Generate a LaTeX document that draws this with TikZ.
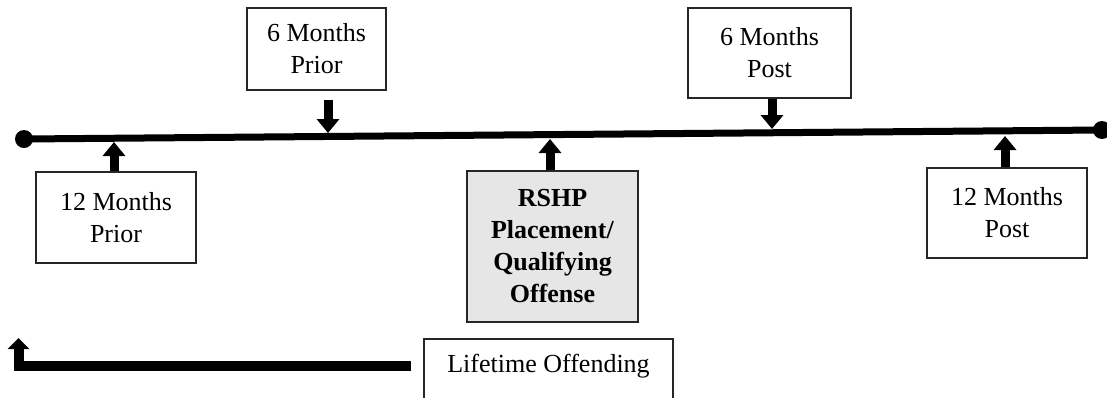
\documentclass[tikz,border=0pt]{standalone}
\usepackage{fontspec}
\setmainfont{Liberation Serif}
\usetikzlibrary{arrows.meta}
\definecolor{rshpgray}{RGB}{230,230,230}

\tikzset{
  period/.style={draw=black!85,line width=1.2pt,inner sep=0pt,align=center,
    font=\fontsize{26}{32}\selectfont},
  bar/.style={line width=9pt,-{Triangle[width=22pt,length=14pt]}},
  timeline/.style={line width=7pt}
}

\begin{document}
\begin{tikzpicture}[x=1pt,y=-1pt]
  \useasboundingbox (0,0) rectangle (1107,397);
  % Timeline
  \coordinate (L) at (24,139);
  \coordinate (R) at (1102,130);
  \draw[timeline] (L) -- (R);
  \fill (L) circle (9pt);
  \fill (R) circle (9pt);
  % Points on the timeline
  \coordinate (t1) at (114,142);
  \coordinate (t2) at (328,133);
  \coordinate (t3) at (550,139);
  \coordinate (t4) at (772,129);
  \coordinate (t5) at (1005,136);
  \coordinate (lt) at (18.5,338);
  % Nodes
  \node[period,minimum width=139pt,minimum height=82pt] (prior6) at (316.5,49) {6 Months\\Prior};
  \node[period,minimum width=163pt,minimum height=90pt] (post6) at (769.5,53) {6 Months\\Post};
  \node[period,minimum width=160pt,minimum height=91pt] (prior12) at (116,217.5) {12 Months\\Prior};
  \node[period,fill=rshpgray,minimum width=171pt,minimum height=151pt] (rshp) at (552.5,246.5)
    {\textbf{RSHP}\\\textbf{Placement/}\\\textbf{Qualifying}\\\textbf{Offense}};
  \node[period,minimum width=160pt,minimum height=90pt] (post12) at (1007,213) {12 Months\\Post};
  \node[period,minimum width=249pt,minimum height=91pt] (life) at (548.5,384.5) {Lifetime Offending\\\strut};
  % Arrows onto the timeline
  \draw[bar] ([xshift=11.5pt,yshift=-9pt]prior6.south) -- (t2);
  \draw[bar] ([xshift=2.5pt]post6.south) -- (t4);
  \draw[bar] ([xshift=-2pt]prior12.north) -- (t1);
  \draw[bar] ([xshift=-2.5pt]rshp.north) -- (t3);
  \draw[bar] ([xshift=-2pt]post12.north) -- (t5);
  % Lifetime arrow
  \draw[bar,line width=10pt,-{Triangle[width=21pt,length=11pt]}]
    ([shift={(-12pt,-28pt)}]life.north west) -| (lt);
\end{tikzpicture}
\end{document}
